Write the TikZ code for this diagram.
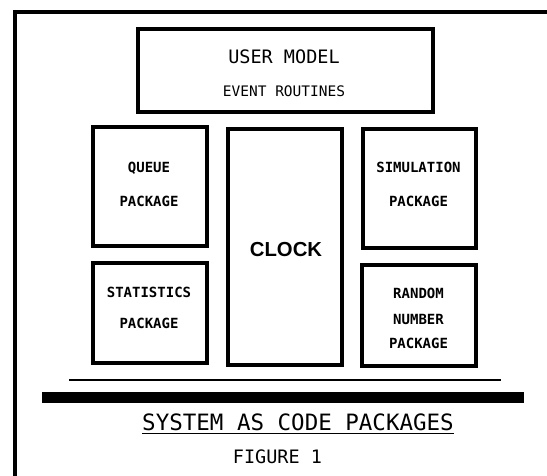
\documentclass[tikz,border=0pt]{standalone}
\usepackage{fontspec}
\newfontfamily\monofnt{DejaVu Sans Mono}
\newfontfamily\clockfnt{Liberation Sans}
\begin{document}
\begin{tikzpicture}[x=1pt,y=-1pt,
  box/.style={draw,line width=3.5pt,inner sep=0pt,fill=none},
  lbl/.style={inner sep=0pt,anchor=base,font=\monofnt\bfseries\fontsize{14}{16}\selectfont},
  frame/.style={line width=3.5pt,line cap=rect},
]
\useasboundingbox (0,0) rectangle (547,476);
% outer frame
\coordinate (fbl) at (15,478);
\coordinate (ftl) at (15,12);
\coordinate (ftr) at (549,12);
\draw[frame] (fbl) -- (ftl) -- (ftr);

% boxes
\node[box,minimum width=295pt,minimum height=83pt] (user) at (285.5,70.5) {};
\node[box,minimum width=114pt,minimum height=119pt] (queue) at (150,186.5) {};
\node[box,minimum width=114pt,minimum height=236pt] (clock) at (285,247) {};
\node[box,minimum width=113pt,minimum height=119pt] (sim) at (419.5,188.5) {};
\node[box,minimum width=114pt,minimum height=100pt] (stats) at (150,313) {};
\node[box,minimum width=114pt,minimum height=101pt] (rand) at (419,315.5) {};

% labels
\node[lbl,font=\monofnt\fontsize{18.5}{20}\selectfont] (u1) at (284,63.7) {USER MODEL};
\node[lbl,font=\monofnt\fontsize{14.5}{16}\selectfont] (u2) at (284,96.3) {EVENT ROUTINES};
\node[lbl] (q1) at (149,172.1) {QUEUE};
\node[lbl] (q2) at (149,206.1) {PACKAGE};
\node[lbl] (s1) at (418.5,172.1) {SIMULATION};
\node[lbl] (s2) at (418.5,206.1) {PACKAGE};
\node[lbl,font=\clockfnt\bfseries\fontsize{20.3}{24}\selectfont] (c1) at (286,256.3) {CLOCK};
\node[lbl] (t1) at (149,297.1) {STATISTICS};
\node[lbl] (t2) at (149,328.1) {PACKAGE};
\node[lbl] (r1) at (418.5,298.1) {RANDOM};
\node[lbl] (r2) at (418.5,324.1) {NUMBER};
\node[lbl] (r3) at (418.5,348.1) {PACKAGE};

% base lines
\coordinate (thinL) at (69,380);
\coordinate (thinR) at (501,380);
\draw[line width=2pt] (thinL) -- (thinR);
\coordinate (barL) at (42,397);
\coordinate (barR) at (524,397);
\draw[line width=11pt] (barL) -- (barR);

% caption
\node[lbl,font=\monofnt\fontsize{22.5}{24}\selectfont] (sys) at (298,430.5) {SYSTEM AS CODE PACKAGES};
\draw[line width=1.5pt] ([yshift=-3pt]sys.base west) -- ([yshift=-3pt]sys.base east);
\node[lbl,font=\monofnt\fontsize{18.5}{20}\selectfont] (fig) at (277.5,463) {FIGURE 1};
\end{tikzpicture}
\end{document}
